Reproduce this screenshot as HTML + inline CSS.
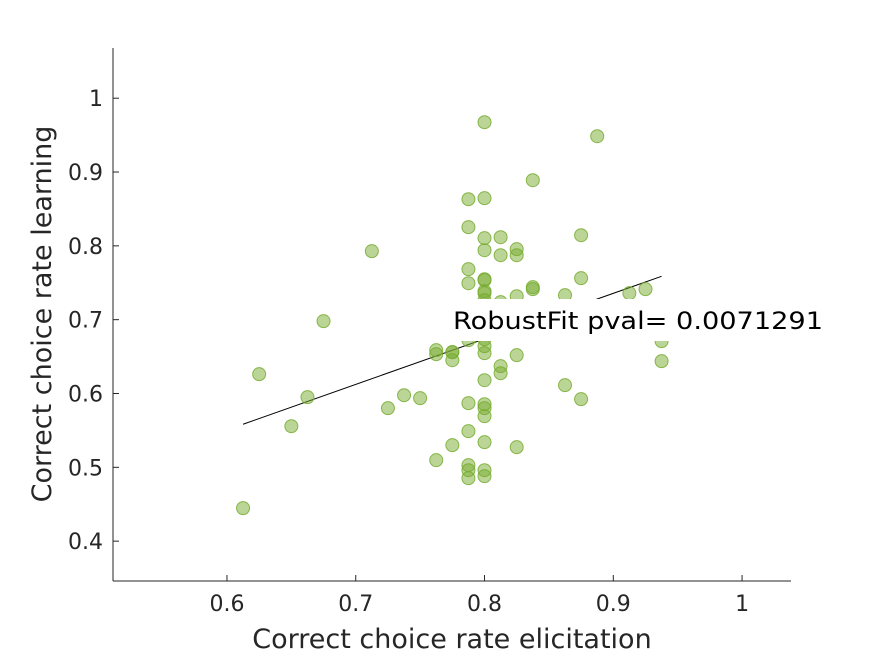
<!DOCTYPE html>
<html><head><meta charset="utf-8"><style>
html,body{margin:0;padding:0;background:#fff;}
svg{display:block;font-family:"DejaVu Sans","Liberation Sans",sans-serif;}
</style></head><body>
<svg id="chart" width="875" height="656">
<g id="axes"></g>
<g id="fit"></g>
<g id="pts"></g>
<g id="lbl"></g>
</svg>
<script>
const xVals=[0.6125,0.625,0.65,0.6625,0.675,0.7125,0.725,0.7375,0.75,0.7625,0.7625,0.7625,0.775,0.775,0.775,0.775,0.7875,0.7875,0.7875,0.7875,0.7875,0.7875,0.7875,0.7875,0.7875,0.7875,0.8,0.8,0.8,0.8,0.8,0.8,0.8,0.8,0.8,0.8,0.8,0.8,0.8,0.8,0.8,0.8,0.8,0.8,0.8125,0.8125,0.8125,0.8125,0.8125,0.825,0.825,0.825,0.825,0.825,0.8375,0.8375,0.8375,0.8625,0.8625,0.875,0.875,0.8875,0.9125,0.925,0.9375,0.9375,0.875,0.8,0.8125,0.825];
const yVals=[0.4447,0.6262,0.5557,0.5950,0.6980,0.7928,0.5801,0.5977,0.5937,0.5097,0.6587,0.6533,0.5300,0.6560,0.6560,0.6451,0.5490,0.5869,0.5029,0.4961,0.4853,0.6722,0.7494,0.7684,0.8253,0.8632,0.9675,0.8646,0.8104,0.7941,0.7548,0.7535,0.7386,0.7359,0.6546,0.6641,0.6736,0.6180,0.5855,0.5801,0.5693,0.5341,0.4961,0.4880,0.8117,0.7873,0.7237,0.6370,0.6275,0.7955,0.7873,0.7318,0.6519,0.5273,0.8889,0.7440,0.7413,0.7332,0.6113,0.7562,0.5923,0.9485,0.7359,0.7413,0.6709,0.6438,0.8144,0.7264,0.6858,0.6858];
const xTicks=[0.6,0.7,0.8,0.9,1];
const xTickLabels=["0.6","0.7","0.8","0.9","1"];
const yTicks=[0.4,0.5,0.6,0.7,0.8,0.9,1];
const yTickLabels=["0.4","0.5","0.6","0.7","0.8","0.9","1"];
const fitSlope=[0.6166];
const fitIntercept=[0.1807];
const pvalText=["RobustFit pval= 0.0071291"];

const X0=113,X1=791,Y0=581,Y1=48;
const xMin=0.5115,xMax=1.038,yMin=0.346,yMax=1.068;
const sx=v=>X0+(v-xMin)/(xMax-xMin)*(X1-X0);
const sy=v=>Y0-(v-yMin)/(yMax-yMin)*(Y0-Y1);
const NS="http://www.w3.org/2000/svg";
function mk(t,a,p){const e=document.createElementNS(NS,t);for(const k in a)e.setAttribute(k,a[k]);p.appendChild(e);return e;}
const ax=document.getElementById('axes');
let e=mk('line',{x1:X0,y1:Y0,x2:X1,y2:Y0,stroke:'#262626','stroke-width':1},ax);


e=mk('line',{x1:X0,y1:Y0,x2:X0,y2:Y1,stroke:'#262626','stroke-width':1},ax);


xTicks.forEach((v,i)=>{
 mk('line',{x1:sx(v),y1:Y0,x2:sx(v),y2:Y0-6,stroke:'#262626'},ax);
 const t=mk('text',{x:sx(v),y:Y0+30,'text-anchor':'middle','font-size':22,fill:'#262626'},ax);
 t.textContent=xTickLabels[i];
 
 
});
yTicks.forEach((v,i)=>{
 mk('line',{x1:X0,y1:sy(v),x2:X0+6,y2:sy(v),stroke:'#262626'},ax);
 const t=mk('text',{x:X0-10,y:sy(v)+8,'text-anchor':'end','font-size':22,fill:'#262626'},ax);
 t.textContent=yTickLabels[i];
 
 
});
let t=mk('text',{x:452,y:648,'text-anchor':'middle','font-size':27,fill:'#262626'},ax);
t.textContent='Correct choice rate elicitation';


t=mk('text',{x:0,y:0,'text-anchor':'middle','font-size':27,fill:'#262626',transform:'translate(51,314) rotate(-90)'},ax);
t.textContent='Correct choice rate learning';



const pg=document.getElementById('pts');
xVals.forEach((v,i)=>{
 const c=mk('circle',{cx:sx(v),cy:sy(yVals[i]),r:6.5,fill:'rgba(119,172,48,0.5)',stroke:'rgba(119,172,48,0.85)','stroke-width':1},pg);
 
 
});
const xmn=Math.min(...xVals),xmx=Math.max(...xVals);
const fl=mk('line',{x1:sx(xmn),y1:sy(fitIntercept[0]+fitSlope[0]*xmn),x2:sx(xmx),y2:sy(fitIntercept[0]+fitSlope[0]*xmx),stroke:'#000','stroke-width':1},document.getElementById('fit'));


const lg=document.getElementById('lbl');
mk('rect',{x:447,y:299,width:353,height:42,fill:'#fff'},lg);
t=mk('text',{x:453,y:329,'font-size':24,fill:'#000',textLength:370,lengthAdjust:'spacingAndGlyphs'},lg);
t.textContent=pvalText[0];


</script>
</body></html>
